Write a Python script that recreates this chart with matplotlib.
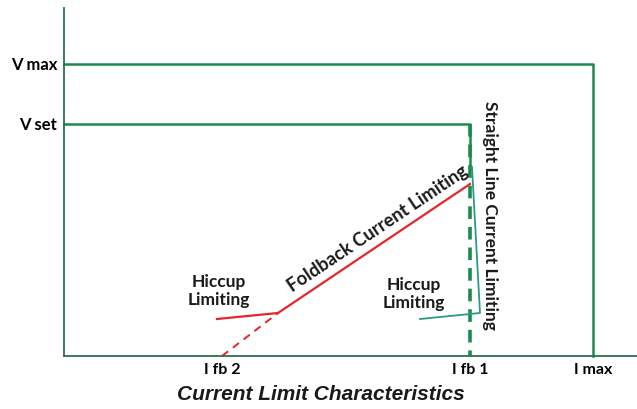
import matplotlib.pyplot as plt

# axis labels (x in current units, y in voltage units; arbitrary scale)
x_ticks = [158, 406, 529]
x_labels = ["I fb 2", "I fb 1", "I max"]
y_ticks = [232, 292]
y_labels = ["V set", "V max"]

# characteristic curves
vmax_x = [0, 529, 529]
vmax_y = [292, 292, 0]
vset_x = [0, 406, 406]
vset_y = [232, 232, 189]
straight_x = [406, 406]
straight_y = [232, 0]
fold_x = [214, 406]
fold_y = [43, 172]
fold_ext_x = [158, 214]
fold_ext_y = [0, 43]
hiccup_red_x = [153, 214]
hiccup_red_y = [37, 43]
hiccup_teal_x = [356, 416, 408]
hiccup_teal_y = [37, 43, 189]

green = "#1b8a4c"
axis_green = "#2c7050"
teal = "#2a9a86"
red = "#e5262c"
font = ["Lato", "DejaVu Sans"]

fig = plt.figure(figsize=(6.37, 4.09), dpi=100)
ax = fig.add_axes([64 / 637, 53 / 409, 573 / 637, 348 / 409])
ax.set_xlim(0, 573)
ax.set_ylim(0, 348)

for s in ["top", "right"]:
    ax.spines[s].set_visible(False)
for s in ["left", "bottom"]:
    ax.spines[s].set_color(axis_green)
    ax.spines[s].set_linewidth(1.3)

ax.plot(vmax_x, vmax_y, color=green, lw=1.8, clip_on=False)
ax.plot(vset_x, vset_y, color=green, lw=1.8, clip_on=False)
ax.plot(straight_x, straight_y, color=green, lw=2.6, ls=(0, (3.5, 2.2)), clip_on=False)
ax.plot(fold_x, fold_y, color=red, lw=1.6)
ax.plot(fold_ext_x, fold_ext_y, color=red, lw=1.4, ls=(0, (4, 3)), clip_on=False)
ax.plot(hiccup_red_x, hiccup_red_y, color=red, lw=1.6)
ax.plot(hiccup_teal_x, hiccup_teal_y, color=teal, lw=1.3)

ax.set_xticks(x_ticks)
ax.set_xticklabels(x_labels, family=font, fontweight="bold", fontsize=11.5)
ax.set_yticks(y_ticks)
ax.set_yticklabels(y_labels, family=font, fontweight="bold", fontsize=12)
ax.tick_params(axis="x", length=0, pad=5)
ax.tick_params(axis="y", length=0, pad=5)

txt = dict(family=font, fontweight="bold", fontsize=12.5, color="#1a1a1a")
ax.text(155, 65, "Hiccup\nLimiting", ha="center", va="center", linespacing=1.2, **txt)
ax.text(350, 62, "Hiccup\nLimiting", ha="center", va="center", linespacing=1.2, **txt)
ax.text(318, 120, "Foldback Current Limiting", rotation=33.8, rotation_mode="anchor",
        ha="center", va="bottom", fontsize=13.2, family=font, fontweight="bold", color="#1a1a1a")
ax.text(426, 141, "Straight Line Current Limiting", rotation=-90, rotation_mode="anchor",
        ha="center", va="center", **txt)

fig.text(321 / 637, 1 - 395 / 409, "Current Limit Characteristics", ha="center", va="center",
         family=["Liberation Sans", "DejaVu Sans"], fontweight="bold", fontstyle="italic",
         fontsize=15, color="#1a1a1a")

fig.savefig("out.png", dpi=100)
